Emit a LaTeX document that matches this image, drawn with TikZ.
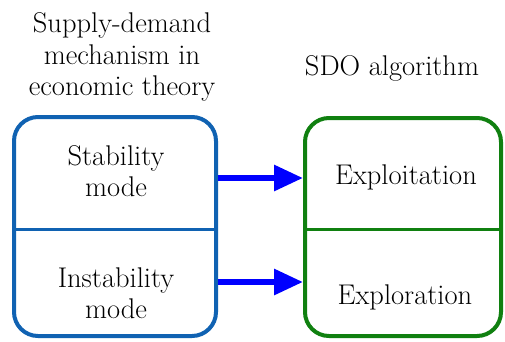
\documentclass[tikz,border=0pt]{standalone}
\usetikzlibrary{arrows.meta}
\definecolor{lblue}{RGB}{16,98,178}
\definecolor{rgreen}{RGB}{16,128,16}
\definecolor{arrblue}{RGB}{0,0,255}
\begin{document}
\begin{tikzpicture}[x=1pt,y=-1pt,
  txt/.style={font=\fontsize{28.5}{31.5}\selectfont, align=center, inner sep=0pt},
  leftbox/.style={draw=lblue, line width=4pt, rounded corners=24pt, minimum width=202pt, minimum height=219pt, inner sep=0pt},
  rightbox/.style={draw=rgreen, line width=4pt, rounded corners=24pt, minimum width=196pt, minimum height=218pt, inner sep=0pt},
  arr/.style={draw=arrblue, line width=6pt, -{Triangle[length=29pt,width=25pt]}}]
\useasboundingbox (0,0) rectangle (505,341);
% headers
\node[txt] (hl) at (122,57) {Supply-demand\\mechanism in\\economic theory};
\node[txt] (hr) at (392,68) {SDO algorithm};
% boxes
\node[leftbox] (lbox) at (115,226.5) {};
\node[rightbox] (rbox) at (403,227) {};
\draw[lblue, line width=3pt] (lbox.west |- 0,229) -- (lbox.east |- 0,229);
\draw[rgreen, line width=3pt] (rbox.west |- 0,229) -- (rbox.east |- 0,229);
% texts
\node[txt] (stab) at (116,171) {Stability\\mode};
\node[txt] (instab) at (116,293) {Instability\\mode};
\node[txt] (explt) at (406,177) {Exploitation};
\node[txt] (explr) at (405,297) {Exploration};
% arrows
\coordinate (a1) at (0,178);
\coordinate (a2) at (0,282);
\draw[arr] (lbox.east |- a1) -- (rbox.west |- a1);
\draw[arr] (lbox.east |- a2) -- (rbox.west |- a2);
\end{tikzpicture}
\end{document}
